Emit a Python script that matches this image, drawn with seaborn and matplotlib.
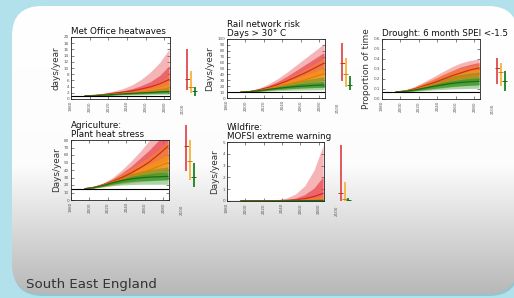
"""
Climate risk fan charts - South East England
Five small panels of projected indicators, three emission scenarios each.
"""
import numpy as np
import pandas as pd
import matplotlib
matplotlib.use("Agg")
import matplotlib.pyplot as plt
from matplotlib.patches import FancyBboxPatch
import seaborn as sns

# ── Data ─────────────────────────────────────────────────────────────────────
YEARS = [1995, 2005, 2015, 2025, 2035, 2045, 2055, 2065, 2075, 2085]
# each scenario: rows = 5%, 25%, median, 75%, 95%
# end-of-century bars: (low, median, high) for high / medium / low scenario

HEAT_HIGH = [[1, 1.0, 1.2, 1.4, 1.6, 1.8, 2.0, 2.2, 2.5, 2.8],
             [1, 1.1, 1.3, 1.6, 1.9, 2.2, 2.5, 2.9, 3.3, 3.8],
             [1, 1.15, 1.45, 1.85, 2.2, 2.6, 3.2, 3.9, 4.9, 6.3],
             [1, 1.2, 1.6, 2.1, 2.6, 3.3, 4.3, 5.6, 7.6, 10.7],
             [1, 1.3, 1.8, 2.5, 3.3, 4.5, 6.3, 8.7, 11.8, 16.0]]
HEAT_MED = [[1, 1.0, 1.1, 1.25, 1.4, 1.5, 1.6, 1.7, 1.8, 1.9],
            [1, 1.05, 1.2, 1.4, 1.6, 1.8, 1.95, 2.1, 2.3, 2.5],
            [1, 1.08, 1.3, 1.55, 1.8, 2.05, 2.3, 2.6, 3.0, 3.5],
            [1, 1.1, 1.35, 1.65, 1.95, 2.3, 2.7, 3.2, 3.9, 4.8],
            [1, 1.15, 1.45, 1.8, 2.2, 2.7, 3.4, 4.3, 5.6, 7.5]]
HEAT_LOW = [[1, 1.0, 1.05, 1.15, 1.25, 1.3, 1.35, 1.4, 1.45, 1.5],
            [1, 1.02, 1.15, 1.3, 1.45, 1.55, 1.65, 1.75, 1.85, 1.95],
            [1, 1.05, 1.25, 1.45, 1.65, 1.8, 1.95, 2.1, 2.25, 2.4],
            [1, 1.07, 1.3, 1.55, 1.8, 2.0, 2.2, 2.4, 2.6, 2.8],
            [1, 1.1, 1.4, 1.7, 2.0, 2.3, 2.6, 2.9, 3.2, 3.5]]
HEAT_BARS = [(3.0, 6.3, 16.2), (2.0, 3.8, 9.1), (1.0, 2.6, 3.9)]

RAIL_HIGH = [[10, 10.5, 12, 14, 17, 20, 23, 26, 28, 30],
             [10, 10.8, 13, 16, 19.5, 24, 28.5, 33, 38, 43],
             [10, 11, 14, 18, 23, 29, 36, 43, 51, 59],
             [10, 11.5, 15.5, 21, 28, 37, 47, 57, 67, 77],
             [10, 12, 17, 24, 33, 44, 56, 68, 80, 92]]
RAIL_MED = [[10, 10.3, 11.2, 12.5, 14, 15, 16, 17, 17.5, 18],
            [10, 10.5, 12, 14, 16.5, 19, 21.5, 24, 27, 30],
            [10, 10.8, 13, 16, 19.5, 23, 27, 31, 36, 41],
            [10, 11, 14, 18, 22.5, 27.5, 33, 39, 45, 51],
            [10, 11.5, 15, 20, 26, 33, 41, 49, 58, 68]]
RAIL_LOW = [[10, 10.2, 11, 11.8, 12.5, 13, 13.3, 13.5, 13.7, 14],
            [10, 10.5, 11.8, 13.2, 14.5, 15.5, 16.5, 17.2, 17.8, 18],
            [10, 10.8, 12.5, 14.5, 16.5, 18, 19.5, 20.5, 21.5, 22],
            [10, 11.2, 13.5, 16, 19, 21.5, 23.5, 25.5, 27, 28.5],
            [10, 11.5, 14.5, 18, 21.5, 25, 28, 31, 33.5, 36]]
RAIL_BARS = [(29, 59, 93), (18, 41, 68), (13, 22.5, 36.5)]

DRY_HIGH = [[.07, .075, .085, .10, .12, .14, .16, .18, .195, .21],
            [.07, .078, .093, .115, .14, .165, .19, .215, .235, .255],
            [.07, .08, .10, .13, .16, .195, .23, .26, .29, .31],
            [.07, .085, .115, .155, .195, .24, .28, .32, .345, .365],
            [.07, .09, .125, .17, .22, .27, .32, .36, .385, .40]]
DRY_MED = [[.07, .073, .08, .09, .10, .11, .12, .13, .135, .14],
           [.07, .075, .088, .105, .122, .14, .157, .172, .185, .195],
           [.07, .078, .095, .12, .145, .17, .195, .215, .23, .245],
           [.07, .083, .108, .14, .17, .205, .235, .26, .28, .295],
           [.07, .088, .12, .16, .20, .24, .28, .31, .33, .35]]
DRY_LOW = [[.07, .072, .077, .083, .09, .095, .10, .103, .105, .108],
           [.07, .074, .082, .093, .105, .115, .125, .132, .137, .142],
           [.07, .077, .09, .107, .125, .14, .155, .165, .172, .177],
           [.07, .08, .10, .123, .146, .165, .182, .195, .205, .212],
           [.07, .085, .11, .14, .17, .20, .225, .245, .26, .27]]
DRY_BARS = [(.15, .31, .41), (.127, .267, .36), (.083, .177, .277)]

AGRI_HIGH = [[15, 16, 18, 21, 24, 27, 30, 33, 36, 39],
             [15, 16.5, 19, 23, 27, 31.5, 36.5, 42, 48, 54],
             [15, 17, 20.5, 25, 30, 36, 43, 51, 61, 72],
             [15, 17.5, 22, 28, 36, 45, 56, 67, 80, 92],
             [15, 18, 23, 30, 40, 52, 65, 80, 95, 110]]
AGRI_MED = [[15, 16, 17.5, 19.5, 21.5, 23, 24.5, 25.5, 26.5, 27],
            [15, 16.4, 18.8, 22, 25, 27.5, 30, 32.5, 35, 38],
            [15, 16.8, 20, 24, 28, 32, 36, 40, 45, 50],
            [15, 17.2, 21, 26, 31.5, 37, 42.5, 48, 54, 60],
            [15, 17.5, 22, 28, 35, 42, 50, 58, 67, 78]]
AGRI_LOW = [[15, 16, 17.5, 19, 20, 20.5, 21, 21, 21, 21],
            [15, 16.2, 18.5, 21, 23, 24.5, 25.5, 26, 26.5, 27],
            [15, 16.5, 19.5, 23, 26, 28, 29.5, 30.5, 31, 31.5],
            [15, 17, 20.5, 24.5, 28.5, 31.5, 33.5, 35, 36.5, 37.5],
            [15, 17.3, 21.5, 26.5, 31, 35, 38, 40.5, 42.5, 44]]
AGRI_BARS = [(39, 72, 100), (27, 52, 80), (17, 31, 49)]

FIRE_HIGH = [[0, 0, 0, 0, 0, .01, .01, .02, .03, .05],
             [0, 0, 0, .01, .01, .02, .04, .07, .12, .20],
             [.01, .01, .01, .02, .03, .05, .10, .20, .38, .65],
             [.02, .02, .02, .03, .05, .10, .25, .55, 1.1, 2.05],
             [.02, .02, .03, .05, .10, .25, .60, 1.3, 2.6, 4.7]]
FIRE_MED = [[0, 0, 0, 0, 0, 0, 0, 0, 0, 0],
            [0, 0, 0, 0, .01, .01, .01, .02, .03, .04],
            [.01, .01, .01, .01, .02, .03, .04, .06, .09, .13],
            [.01, .01, .02, .02, .03, .05, .08, .12, .18, .28],
            [.02, .02, .02, .03, .05, .08, .13, .20, .30, .45]]
FIRE_LOW = [[0, 0, 0, 0, 0, 0, 0, 0, 0, 0],
            [0, 0, 0, 0, 0, 0, .01, .01, .01, .02],
            [.01, .01, .01, .01, .01, .02, .02, .03, .03, .04],
            [.01, .01, .01, .02, .02, .03, .04, .05, .06, .08],
            [.01, .01, .02, .02, .03, .04, .05, .07, .09, .12]]
FIRE_BARS = [(0.0, 0.65, 4.78), (0.0, 0.17, 1.63), (0.0, 0.10, 0.28)]

# ── Style ─────────────────────────────────────────────────────────────────────
W, H = 514, 298
SKY   = "#b2e1ec"
SCEN  = ["high", "medium", "low"]
FILL  = {"high": "#e8474c", "medium": "#f5960f", "low": "#2a9628"}
LINE  = {"high": "#d42a1c", "medium": "#e07c10", "low": "#1d6a1d"}
BAR   = {"high": "#e0585a", "medium": "#f5b948", "low": "#2b8a2b"}
BAR_X = {"high": 2104.5, "medium": 2108.5, "low": 2112.5}
ALPHA_OUT = {"high": 0.40, "medium": 0.45, "low": 0.40}
ALPHA_IN  = {"high": 0.72, "medium": 0.75, "low": 0.70}

sns.set_theme(style="ticks")
plt.rcParams.update({
    "font.family": ["DejaVu Sans"],
    "xtick.direction": "in", "ytick.direction": "in",
    "xtick.top": True, "ytick.right": True,
    "xtick.major.size": 2, "ytick.major.size": 2,
    "xtick.major.width": 0.4, "ytick.major.width": 0.4,
    "xtick.major.pad": 1.5, "ytick.major.pad": 1.5,
    "axes.linewidth": 0.6, "axes.edgecolor": "#222222",
})

fig = plt.figure(figsize=(W / 100, H / 100), dpi=100)
fig.patch.set_facecolor(SKY)

# slide card with grey gradient towards the bottom
bg = fig.add_axes([0, 0, 1, 1], zorder=-5)
bg.set_xlim(0, W); bg.set_ylim(H, 0); bg.axis("off")
shadow = FancyBboxPatch((13, 8), 506, 288, boxstyle="round,pad=0,rounding_size=30",
                        fc="#7fb3bf", ec="none", alpha=0.6, zorder=0)
bg.add_patch(shadow)
card = FancyBboxPatch((12, 6), 506, 288, boxstyle="round,pad=0,rounding_size=30",
                      fc="none", ec="none")
bg.add_patch(card)
rows = np.linspace(0, 1, 300)
shade = np.interp(rows, [0, 0.55, 0.78, 1.0], [1.0, 0.99, 0.85, 0.72])
grad = np.repeat(np.repeat(shade[:, None, None], 2, axis=1), 3, axis=2)
img = bg.imshow(grad, extent=(12, 518, 294, 6), aspect="auto", zorder=1)
img.set_clip_path(card)
bg.text(26, 288, "South East England", fontsize=9.6, color="#333333",
        ha="left", va="baseline", zorder=2)


def panel(box, title, ylabel, ylim, yticks, base, fans, bars):
    l, t, r, b = box
    ax = fig.add_axes([l / W, 1 - b / H, (r - l) / W, (b - t) / H])
    ax.set_facecolor("white")
    for scen, q in zip(SCEN, fans):
        ax.fill_between(YEARS, q[0], q[4], color=FILL[scen], alpha=ALPHA_OUT[scen], lw=0)
        ax.fill_between(YEARS, q[1], q[3], color=FILL[scen], alpha=ALPHA_IN[scen], lw=0)
        med = pd.DataFrame({"year": YEARS, "value": q[2]})
        sns.lineplot(data=med, x="year", y="value", color=LINE[scen], lw=0.9, ax=ax)
    ax.axhline(base, color="black", lw=0.8)
    for scen, (lo, mid, hi) in zip(SCEN, bars):
        x = BAR_X[scen]
        ax.vlines(x, lo, hi, colors=BAR[scen], lw=1.4, clip_on=False)
        ax.hlines(mid, x - 2.8, x + 2.8, colors=LINE[scen], lw=0.7, clip_on=False)
    ax.set_xlim(1980, 2086)
    ax.set_ylim(*ylim)
    ax.set_xticks(range(1980, 2081, 20))
    ax.set_xticklabels([str(v) for v in range(1980, 2081, 20)], rotation=90,
                       fontsize=3, color="#555555")
    ax.annotate("2100", xy=(2100, 0), xycoords=ax.get_xaxis_transform(),
                xytext=(0, -3.5), textcoords="offset points", rotation=90,
                ha="center", va="top", fontsize=3, color="#555555",
                annotation_clip=False)
    ax.set_yticks(yticks)
    ax.tick_params(axis="y", labelsize=3, labelcolor="#555555")
    ax.set_xlabel("")
    ax.set_ylabel(ylabel, fontsize=6.4, color="#333333", labelpad=2)
    ax.set_title(title, loc="left", fontsize=6.3, color="#111111", pad=2,
                 linespacing=1.05)
    return ax


panel((71, 37, 170, 99), "Met Office heatwaves", "days/year",
      (0, 20), range(0, 21, 2), 1.0, [HEAT_HIGH, HEAT_MED, HEAT_LOW], HEAT_BARS)
panel((227, 39, 325, 98), "Rail network risk\nDays > 30° C", "Days/year",
      (0, 100), range(0, 101, 10), 10, [RAIL_HIGH, RAIL_MED, RAIL_LOW], RAIL_BARS)
panel((382, 39, 480, 99), "Drought: 6 month SPEI <-1.5", "Proportion of time",
      (0, 0.6), np.arange(0, 0.61, 0.1), 0.07, [DRY_HIGH, DRY_MED, DRY_LOW], DRY_BARS)
panel((71, 140, 169, 200), "Agriculture:\nPlant heat stress", "Days/year",
      (0, 80), range(0, 81, 10), 15, [AGRI_HIGH, AGRI_MED, AGRI_LOW], AGRI_BARS)
panel((227, 142, 324, 201), "Wildfire:\nMOFSI extreme warning", "Days/year",
      (0, 5), range(0, 6), 0.02, [FIRE_HIGH, FIRE_MED, FIRE_LOW], FIRE_BARS)

fig.savefig("out.png", dpi=100, facecolor=fig.get_facecolor())
